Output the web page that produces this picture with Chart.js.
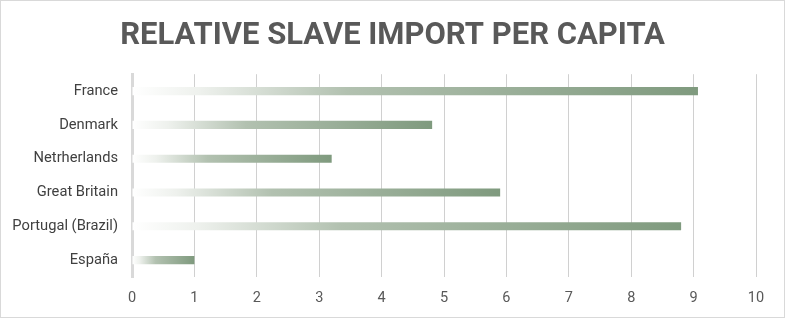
<!DOCTYPE html>
<html>
<head>
<meta charset="utf-8">
<script src="https://cdn.jsdelivr.net/npm/chart.js@4"></script>
<style>
  body { margin: 0; background: #fff; }
  .chartBox { width: 783px; height: 316px; border: 1px solid #d9d9d9; }
</style>
</head>
<body>
<div class="chartBox"><canvas id="chart" width="783" height="316"></canvas></div>
<script>
const countries = ["France", "Denmark", "Netrherlands", "Great Britain", "Portugal (Brazil)", "España"];
const importPerCapita = [9.07, 4.81, 3.2, 5.9, 8.8, 1.0];
const xTicks = [0, 1, 2, 3, 4, 5, 6, 7, 8, 9, 10];

const barFill = (ctx) => {
    const chart = ctx.chart;
    const x = chart.scales.x;
    if (!x || ctx.dataIndex === undefined) return "#8fa88e";
    const x0 = x.getPixelForValue(0);
    const x1 = x.getPixelForValue(importPerCapita[ctx.dataIndex]);
    if (!isFinite(x0) || !isFinite(x1) || x1 <= x0) return "#8fa88e";
    const g = chart.ctx.createLinearGradient(x0, 0, x1, 0);
    g.addColorStop(0, "#ffffff");
    g.addColorStop(0.12, "#eef1ed");
    g.addColorStop(0.38, "#b2c1b0");
    g.addColorStop(1, "#7f9a7e");
    return g;
};

new Chart(document.getElementById("chart").getContext("2d"), {
    type: "bar",
    data: {
        labels: countries,
        datasets: [{
            data: importPerCapita,
            backgroundColor: barFill,
            barPercentage: 0.24,
            categoryPercentage: 1
        }]
    },
    options: {
        indexAxis: "y",
        responsive: false,
        animation: false,
        layout: {padding: 0},
        plugins: {
            legend: {display: false},
            tooltip: {enabled: false},
            title: {
                display: true,
                text: "RELATIVE SLAVE IMPORT PER CAPITA",
                color: "#595959",
                font: {family: "Roboto", size: 31, weight: "bold"},
                padding: {top: 17, bottom: 19}
            }
        },
        scales: {
            x: {
                min: 0,
                max: 10,
                afterBuildTicks: (scale) => { scale.ticks = xTicks.map(v => ({value: v})); },
                afterFit: (scale) => { scale.height = 40; },
                grid: {color: "#d0d0d0", lineWidth: 1, drawTicks: false},
                border: {display: false},
                ticks: {color: "#595959", font: {family: "Roboto", size: 14.5}, padding: 13}
            },
            y: {
                afterFit: (scale) => { scale.width = 131; },
                grid: {display: false, drawTicks: false},
                border: {display: true, color: "#d9d9d9", width: 3},
                ticks: {color: "#404040", font: {family: "Roboto", size: 14.7}, padding: 14}
            },
            // empty right-hand spacer so the title stays centred on the whole canvas
            yRight: {
                type: "category",
                position: "right",
                afterFit: (scale) => { scale.width = 28; },
                grid: {display: false, drawTicks: false},
                border: {display: false},
                ticks: {display: false}
            }
        }
    }
});
</script>
</body>
</html>
